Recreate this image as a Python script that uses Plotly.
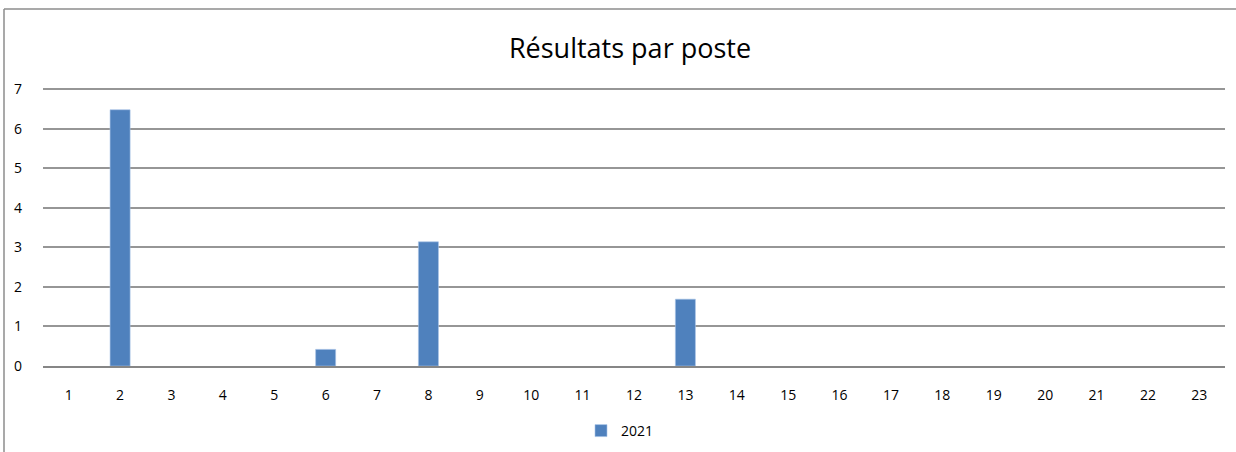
import plotly.graph_objects as go

categories = [str(i) for i in range(1, 24)]
values_2021 = [None, 6.48, None, None, None, 0.42, None, 3.14, None, None, None, None, 1.69,
               None, None, None, None, None, None, None, None, None, None]
series_name = "2021"
title_text = "Résultats par poste"

W, H = 1236, 452
L, R, T, B = 43, 11, 88, 86
pw, ph = W - L - R, H - T - B
FONT = "Open Sans, Liberation Sans, Arial, sans-serif"

fig = go.Figure()
fig.add_trace(go.Bar(
    x=categories, y=values_2021, name=series_name,
    marker=dict(color="#4F81BD", line=dict(color="#A9C4E8", width=0.6)),
))

fig.update_layout(
    width=W, height=H,
    margin=dict(l=L, r=R, t=T, b=B, autoexpand=False),
    paper_bgcolor="white", plot_bgcolor="white",
    font=dict(family=FONT, size=14, color="#000000"),
    title=dict(text=title_text, x=(630 - L) / pw, xanchor="center", xref="paper",
               y=1 - 49 / H, yanchor="middle",
               font=dict(size=27, family=FONT)),
    bargap=0.61,
    showlegend=True,
    legend=dict(orientation="h", x=(620 - L) / pw, xanchor="center",
                y=-(431 - (H - B)) / ph, yanchor="middle",
                font=dict(size=14), itemwidth=30, bgcolor="rgba(0,0,0,0)"),
)
fig.update_xaxes(type="category", showgrid=False, showline=True, linecolor="#868686",
                 linewidth=2, ticks="", ticklabelstandoff=15, tickfont=dict(size=14))
fig.update_yaxes(range=[0, 7.03], tickvals=[0, 1, 2, 3, 4, 5, 6, 7], showgrid=True,
                 gridcolor="#969696", gridwidth=1.5,
                 zeroline=False, showline=False, ticks="", ticklabelstandoff=20,
                 tickfont=dict(size=14))

# outer chart frame
fig.add_shape(type="line", xref="paper", yref="paper",
              x0=(4 - L) / pw, x1=(W + 5 - L) / pw, y0=(H - B - 9) / ph, y1=(H - B - 9) / ph,
              line=dict(color="#8c8c8c", width=1.5), layer="above")
fig.add_shape(type="line", xref="paper", yref="paper",
              x0=(4 - L) / pw, x1=(4 - L) / pw, y0=(H - B - 9) / ph, y1=-(B + 10) / ph,
              line=dict(color="#8c8c8c", width=1.5), layer="above")

fig.write_html("out.html", config={"displayModeBar": False},
               post_script="document.body.style.margin='0';")
